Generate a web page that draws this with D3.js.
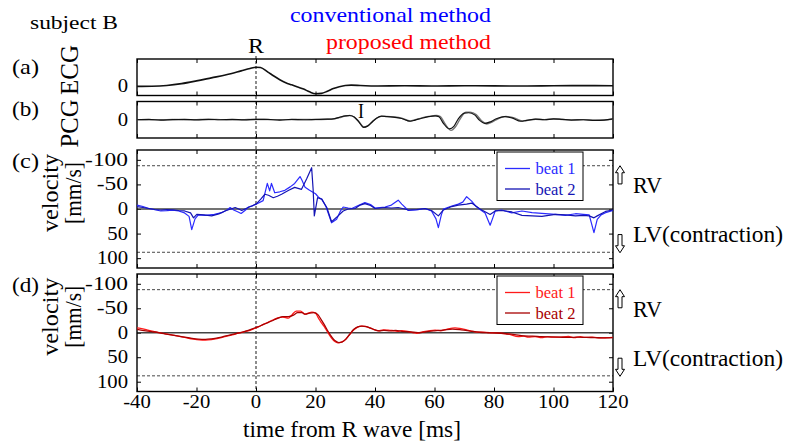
<!DOCTYPE html>
<html>
<head>
<meta charset="UTF-8">
<title>subject B - wall velocity around R wave</title>
<script src="https://d3js.org/d3.v7.min.js"></script>
<style>
  body { margin: 0; background: #fff; }
  svg text { font-family: "Liberation Serif", "Times New Roman", Times, serif; }
</style>
</head>
<body>
<div class="canvas"></div>
<script>
// ---- data ----
const timeTicks = [-40, -20, 0, 20, 40, 60, 80, 100, 120];
const velocityTicks = [-100, -50, 0, 50, 100];
const limitVelocity = 88; // dashed lines, mm/s

// ECG, arbitrary units, [time ms, value]
const ecg = [[-40,0],[-35,0.05],[-30,0.3],[-25,0.9],[-20,1.8],[-15,2.8],[-10,3.8],[-5,5.1],[-2,5.9],[0,6.3],[1.5,6.2],[4,4.7],[6,3.4],[8,2.2],[10,1.2],[12,0.5],[14,-0.2],[16,-0.9],[18,-1.8],[20,-2.4],[22,-2.3],[24,-1.6],[26,-0.7],[28,-0.1],[30,0.3],[32,0.4],[35,0.3],[40,0.1],[50,0.2],[60,0.1],[70,0.2],[80,0.15],[90,0.1],[100,0.2],[110,0.25],[120,0.2]];

// PCG, arbitrary units
const pcgBeat1 = [[-40,0],[-36,0.1],[-32,-0.1],[-28,0.05],[-24,0.1],[-20,-0.05],[-16,0.15],[-12,0],[-8,0.1],[-4,-0.05],[0,0.15],[4,0.1],[8,-0.1],[12,0.1],[16,0],[20,0.1],[24,0.2],[26,0.3],[28,0.8],[30,1.3],[31.5,1.4],[33,0.9],[34.5,-0.6],[36.2,-2.5],[37.5,-2.1],[39,-0.8],[40.5,0.5],[42.2,1.2],[44,1.0],[46.7,0.8],[49,0.4],[51.8,-0.5],[53.5,-0.1],[55.7,0.5],[58,1.0],[60.2,1.3],[61.5,1.0],[63,-1.2],[65,-3.0],[66.5,-2.2],[68,0.3],[70,2.2],[71.5,2.3],[73.5,1.6],[75.2,-0.2],[76.9,-1.2],[79,-0.6],[81,0.4],[83.6,1.0],[86,0.6],[89,-0.5],[91,-0.2],[94,0.2],[97,0],[100,0.3],[103,0.1],[106,-0.1],[110,0],[114,-0.2],[117,-0.1],[120,0.3]];
const pcgBeat2 = [[-40,0.05],[-36,0],[-32,0],[-28,0.1],[-24,0],[-20,0.05],[-16,0.1],[-12,0.05],[-8,0],[-4,0.05],[0,0.1],[4,0.05],[8,0],[12,0.05],[16,0.1],[20,0.05],[24,0.15],[26,0.3],[28,0.7],[30,1.2],[31.5,1.4],[33,0.9],[34.5,-0.5],[36.2,-2.4],[37.5,-2.0],[39,-0.7],[40.5,0.5],[42.2,1.1],[44,1.1],[46.7,0.9],[49,0.5],[51.8,-0.4],[53.5,0],[55.7,0.6],[58,1.1],[60.6,1.4],[62,1.0],[63.5,-1.3],[65.6,-3.5],[67,-2.4],[68.6,0.2],[70.6,2.5],[72,2.5],[74,1.7],[75.8,-0.3],[77.5,-1.4],[79.5,-0.7],[81.5,0.4],[84,1.1],[86.5,0.7],[89.5,-0.4],[91.5,-0.2],[94,0.15],[97,0.05],[100,0.25],[103,0.1],[106,-0.05],[110,0.05],[114,-0.15],[117,-0.1],[120,0.25]];

// velocity, conventional method [mm/s]
const convBeat1 = [[-40,-8],[-38,-5],[-36,-1],[-34,1.5],[-32,4],[-30,3.5],[-28,2.5],[-26,4],[-24,8],[-22.5,15],[-21.6,42],[-20.5,20],[-19.4,12],[-17,13],[-14,11],[-11.5,7.5],[-9.5,1],[-8.7,-3],[-7.5,2],[-6,6],[-5,9],[-3.5,2],[-2.6,-4],[-1,-7],[0.2,-10],[2.4,-17],[3.8,-52],[4.6,-37],[5.2,-52],[6.3,-33],[8,-35],[9.7,-38],[11.5,-45],[13,-52],[14.8,-66],[15.5,-58],[16.5,-44],[18,-38],[20,-31],[21,-24],[22.1,-20],[23.5,-5],[25.4,28],[27.1,21],[28.3,5],[29.3,-4],[31,-2],[32.2,-1],[34,-6],[36.6,-13],[38.5,-9],[40,-2],[43.4,-4],[45.5,-8],[47.8,-18],[49,-10],[51.2,3],[54,2],[56.8,-1],[59,4],[60.5,20],[61.3,38],[62.3,12],[63,0],[65.8,-6],[68,-10],[69.5,-14],[70.8,-25],[72.5,-16],[74,-5],[75.3,1],[77,8],[78.7,33],[79.6,18],[80.4,4],[82.6,2],[86,8],[89.4,4],[92.8,7.5],[96.1,9],[100.6,11],[104,13],[107.4,9.6],[110,11],[112,12],[113.6,48],[114.7,21],[116,12],[117.5,7.5],[120,3]];
const convBeat2 = [[-40,-5],[-38,-3],[-36,-1],[-34,1],[-32,2],[-30,1],[-28,1.5],[-26,3],[-24,4],[-22,8],[-21,18],[-19.9,11],[-17.5,12],[-14.9,14],[-12.5,10],[-10.4,4],[-8.5,0],[-7,-3],[-5.8,0],[-4.8,3],[-3,-2],[-1.4,-6],[0.2,-11],[1.6,-20],[3,-30],[4.2,-28],[5.8,-23],[7.2,-26],[8.6,-30],[11,-38],[13,-44],[15.3,-40],[17,-61],[18.7,-84],[19.2,-40],[19.6,14],[20.7,-23],[22.1,-20],[23.8,-3],[25.4,26],[27.6,14],[29.3,4],[31,0],[33.3,-1],[35,-8],[36.6,-11],[38.5,-7],[40,-1],[43.4,-3],[45.5,-2],[47.8,-3],[50,0],[51.2,2],[54,1],[56.8,-1],[59,3],[61.3,14],[63,2],[65.8,-5],[68,-8],[70.8,-10],[72.5,-12],[75.3,0],[78.7,11],[80.4,4],[82.6,3],[86,6],[89.4,13],[92.8,14],[96.1,15],[100.6,11],[104,12],[107.4,14],[110,13],[112,14],[113.6,18],[114.7,14],[117.5,5],[120,2]];

// velocity, proposed method [mm/s]
const propBeat1 = [[-40,-10],[-38.8,-9],[-36,-5],[-33.9,-2],[-31,1.5],[-29.5,3.4],[-27,6],[-24,9.5],[-21,13],[-19,14.5],[-17,15],[-15,14],[-12.5,11],[-10.5,8],[-8,4.5],[-6,1],[-4,-2],[-2.6,-4],[-1,-7.5],[0.8,-12],[2.5,-17],[4.2,-22],[6,-27],[7.5,-31],[9,-32],[10.9,-30],[12,-36],[13.5,-44],[15,-44],[16.5,-38],[17.5,-40],[18.8,-42],[20,-40],[21,-30],[22,-20],[23.2,-10],[24.5,3],[25.4,11],[26.5,18],[27.5,20.6],[28.8,19],[29.9,15],[31.2,6],[32.7,-5],[34,-11],[35.5,-13.7],[36.8,-13],[37.8,-11],[39.5,-7],[41.1,-4],[42.8,-6],[44.5,-5.5],[46.5,-4],[48,-3],[49,-4.5],[51,-3],[53,0],[54,1],[56,-2],[58,-4],[60.2,-5.5],[62,-4],[64,-7],[66.9,-10],[68.5,-9],[71.4,-5],[73.5,-2],[75.9,-1],[79,0],[82.6,1],[85,3],[88.2,8],[90,7],[91.5,9],[93.8,8],[96,10],[98,8],[99.4,9],[102,9],[105,7.5],[107,10],[109,8],[110.6,9.5],[113,9],[116.2,10.5],[118,10],[120,9.5]];
const propBeat2 = [[-40,-7],[-37,-4],[-34,-1.5],[-31,2],[-28,5],[-25,8],[-22,11],[-19.4,13],[-17,13.5],[-15,12.5],[-12.5,10],[-10.5,7],[-8,3.5],[-6,0.5],[-4,-2.5],[-2.6,-5],[-1,-8.5],[0.8,-12.5],[2.5,-17],[4.2,-21],[6,-26],[7.5,-30],[9,-33],[10.9,-33],[12.6,-36],[14,-41],[15.5,-41],[16.5,-38],[18,-40],[19.5,-41],[20.8,-37],[21.8,-28],[23,-16],[24.2,-3],[25.4,8],[26.5,16],[27.8,20],[29,18.5],[30.2,13],[31.5,3],[32.9,-7],[34.2,-12],[35.6,-13.5],[37,-12.5],[38.3,-10],[40,-6],[41.5,-4],[43,-5],[45,-4],[47,-5],[49,-3],[51,-2],[53,-1],[55,0],[57,-2],[60,-4],[63,-5.5],[66,-7.5],[69,-6],[72,-3.5],[75,-1],[78,0],[81,0.5],[84,2],[87,4],[90,6.5],[93,7],[96,8],[99,8.5],[102,9],[105,9.5],[108,9],[111,9.5],[114,10],[117,10.5],[120,10]];

// ---- layout ----
const width = 787;
const height = 445;

const svg = d3.select(".canvas")
  .append("svg")
  .attr("width", width)
  .attr("height", height);

const x = d3.scaleLinear().domain([-40, 120]).range([137, 613]);

const yEcg = d3.scaleLinear().domain([-3, 9]).range([95.5, 59]);
const yPcg = d3.scaleLinear().domain([-6, 6]).range([138, 101.5]);
const yConv = d3.scaleLinear().domain([-120, 120]).range([150, 268]);
const yProp = d3.scaleLinear().domain([-120, 120]).range([274, 391.5]);

const yTop = y => d3.min(y.range());
const yBottom = y => d3.max(y.range());

// rough width of a serif string, in em (Times metrics)
const glyphEm = { "-": 0.333, " ": 0.25 };
const emWidth = s => [...s].reduce((w, c) => w + (glyphEm[c] || 0.5), 0);

// draws box + inward ticks of one panel
function frame(y, withVelocityTicks, withTimeLabels) {
  const t = yTop(y), b = yBottom(y);
  const g = svg.append("g");

  g.append("g")
    .attr("transform", `translate(0,${t})`)
    .call(d3.axisTop(x).tickValues(timeTicks).tickSize(-4).tickFormat(""))
    .call(a => a.select(".domain").remove());

  g.append("g")
    .attr("transform", `translate(0,${b})`)
    .call(d3.axisBottom(x).tickValues(timeTicks).tickSize(-4).tickFormat(""))
    .call(a => a.select(".domain").remove());

  // tick labels as plain text, stretched sideways like the source figure
  if (withTimeLabels) {
    timeTicks.forEach(v => {
      const w = emWidth(String(v)) * 18 * 1.15;
      g.append("text")
        .attr("x", x(v) - w / 2).attr("y", b + 16.5)
        .attr("font-size", 18)
        .attr("textLength", w).attr("lengthAdjust", "spacingAndGlyphs")
        .text(String(v));
    });
  }

  const ticksLeft = withVelocityTicks ? velocityTicks : [0];
  ticksLeft.forEach(v => {
    const w = emWidth(String(v)) * 18 * (v < 0 ? 1.3 : 1.15);
    g.append("text")
      .attr("x", x.range()[0] - 9 - w).attr("y", y(v) + 6)
      .attr("font-size", 18)
      .attr("textLength", w).attr("lengthAdjust", "spacingAndGlyphs")
      .text(String(v));
  });

  if (withVelocityTicks) {
    g.append("g")
      .attr("transform", `translate(${x.range()[0]},0)`)
      .call(d3.axisLeft(y).tickValues(velocityTicks).tickSize(-4).tickFormat(""))
      .call(a => a.select(".domain").remove());
    g.append("g")
      .attr("transform", `translate(${x.range()[1]},0)`)
      .call(d3.axisRight(y).tickValues(velocityTicks).tickSize(-4).tickFormat(""))
      .call(a => a.select(".domain").remove());

    // dashed limits and zero line
    [-limitVelocity, limitVelocity].forEach(v => {
      g.append("line")
        .attr("x1", x.range()[0]).attr("x2", x.range()[1])
        .attr("y1", y(v)).attr("y2", y(v))
        .attr("stroke", "#333").attr("stroke-width", 0.9)
        .attr("stroke-dasharray", "3,2");
    });
    g.append("line")
      .attr("x1", x.range()[0]).attr("x2", x.range()[1])
      .attr("y1", y(0)).attr("y2", y(0))
      .attr("stroke", "#444").attr("stroke-width", 1.3);
  }

  g.append("rect")
    .attr("x", x.range()[0]).attr("y", t)
    .attr("width", x.range()[1] - x.range()[0]).attr("height", b - t)
    .attr("fill", "none").attr("stroke", "#000").attr("stroke-width", 1.4);
  return g;
}

function trace(y, data, color, w, curve) {
  const line = d3.line()
    .x(d => x(d[0]))
    .y(d => y(d[1]))
    .curve(curve || d3.curveLinear);
  svg.append("path")
    .datum(data)
    .attr("d", line)
    .attr("fill", "none")
    .attr("stroke", color)
    .attr("stroke-width", w)
    .attr("stroke-linejoin", "round");
}

// R wave marker (behind everything)
svg.append("line")
  .attr("x1", x(0)).attr("x2", x(0))
  .attr("y1", 56).attr("y2", yBottom(yProp))
  .attr("stroke", "#000").attr("stroke-width", 0.9)
  .attr("stroke-dasharray", "3,2");

frame(yEcg, false, false);
frame(yPcg, false, false);
frame(yConv, true, false);
frame(yProp, true, true);

// curves
trace(yEcg, ecg, "#111", 1.6, d3.curveMonotoneX);
trace(yPcg, pcgBeat2, "#777", 1.4, d3.curveMonotoneX);
trace(yPcg, pcgBeat1, "#111", 1.2, d3.curveMonotoneX);

const blue1 = "#2b2bff", blue2 = "#1414b4";
const red1 = "#ff1a1a", red2 = "#a80000";
trace(yConv, convBeat1, blue1, 1.2);
trace(yConv, convBeat2, blue2, 1.2);
trace(yProp, propBeat1, red1, 1.3, d3.curveMonotoneX);
trace(yProp, propBeat2, red2, 1.3, d3.curveMonotoneX);

// text with a fixed drawn length; px,py = start of baseline (or centre/end)
function label(txt, px, py, size, len, opts) {
  opts = opts || {};
  const anchor = opts.anchor || "start";
  const dx = anchor === "middle" ? -len / 2 : anchor === "end" ? -len : 0;
  const g = svg.append("g")
    .attr("transform", `translate(${px},${py})` + (opts.rotate ? " rotate(-90)" : ""));
  return g.append("text")
    .attr("x", dx).attr("y", 0)
    .attr("font-size", size)
    .attr("fill", opts.fill || "#000")
    .attr("textLength", len)
    .attr("lengthAdjust", "spacingAndGlyphs")
    .text(txt);
}

// legends
function legend(y, c1, c2) {
  const g = svg.append("g").attr("transform", `translate(497,${yTop(y) + 2})`);
  g.append("rect").attr("width", 86).attr("height", 48.5)
    .attr("fill", "#fff").attr("stroke", "#000").attr("stroke-width", 1);
  [["beat 1", c1, 16.5], ["beat 2", c2, 37]].forEach(([txt, c, ly]) => {
    g.append("line").attr("x1", 8).attr("x2", 33).attr("y1", ly).attr("y2", ly)
      .attr("stroke", c).attr("stroke-width", 1.3);
    g.append("text").attr("x", 38.5).attr("y", ly + 5.5)
      .attr("font-size", 17).attr("fill", c)
      .attr("textLength", 40).attr("lengthAdjust", "spacingAndGlyphs")
      .text(txt);
  });
}
legend(yConv, blue1, blue2);
legend(yProp, red1, red2);

// RV / LV annotations with outline arrows
function arrow(y, v0, v1) {
  // v0 = tip, v1 = tail end
  const cx = 620, tip = y(v0), tail = y(v1);
  const dir = tail > tip ? 1 : -1;
  const base = tip + dir * 7;
  const p = d3.path();
  p.moveTo(cx, tip);
  p.lineTo(cx + 4.5, base); p.lineTo(cx + 2, base); p.lineTo(cx + 2, tail);
  p.lineTo(cx - 2, tail); p.lineTo(cx - 2, base); p.lineTo(cx - 4.5, base);
  p.closePath();
  svg.append("path").attr("d", p.toString())
    .attr("fill", "#fff").attr("stroke", "#000").attr("stroke-width", 1);
}
[yConv, yProp].forEach(y => {
  arrow(y, -88, -51);
  arrow(y, 89, 52);
  label("RV", 633, y(-33), 24, 29);
  label("LV(contraction)", 633, y(68), 23, 150);
});

label("subject B", 30, 29, 19, 88);
label("conventional method", 491, 22, 22, 201, { anchor: "end", fill: "#0000ff" });
label("proposed method", 491, 49, 22, 165, { anchor: "end", fill: "#ff0000" });
label("R", x(0), 53, 21, 16, { anchor: "middle" });
label("I", 361, 118, 21, 6, { anchor: "middle" });

["(a)", "(b)", "(c)", "(d)"].forEach((s, i) => {
  label(s, 12, [74, 116, 168, 292][i], 22, 27);
});

label("ECG", 78, 70, 25.5, 50, { anchor: "middle", rotate: true });
label("PCG", 78, 123.5, 25.5, 48, { anchor: "middle", rotate: true });

[yConv, yProp].forEach(y => {
  const cy = (yTop(y) + yBottom(y)) / 2 - 16;
  label("velocity", 58, cy, 24, 78, { anchor: "middle", rotate: true });
  label("[mm/s]", 81, cy, 23, 62, { anchor: "middle", rotate: true });
});

label("time from R wave [ms]", 352, 437, 23, 218, { anchor: "middle" });
</script>
</body>
</html>
